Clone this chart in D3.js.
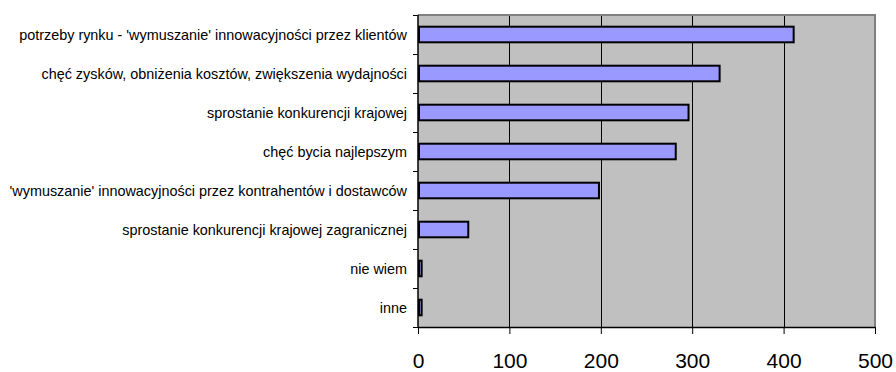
<!DOCTYPE html>
<html>
<head>
<meta charset="utf-8">
<script src="https://cdn.jsdelivr.net/npm/d3@7"></script>
<style>
  html, body { margin: 0; padding: 0; background: #ffffff; }
  svg { display: block; }
</style>
</head>
<body>
<svg id="chart" width="896" height="372"></svg>
<script>
// Motives for innovation — number of answers
const categories = [
  "potrzeby rynku - 'wymuszanie' innowacyjności przez klientów",
  "chęć zysków, obniżenia kosztów, zwiększenia wydajności",
  "sprostanie konkurencji krajowej",
  "chęć bycia najlepszym",
  "'wymuszanie' innowacyjności przez kontrahentów i dostawców",
  "sprostanie konkurencji krajowej zagranicznej",
  "nie wiem",
  "inne"
];
const values = [411, 330, 296, 282, 198, 55, 4, 4];
const xTicks = [0, 100, 200, 300, 400, 500];

const svg = d3.select("#chart");
const plot = { left: 418, right: 875, top: 15, bottom: 327 };

const x = d3.scaleLinear().domain([0, 500]).range([plot.left, plot.right]);
const y = d3.scaleBand().domain(categories).range([plot.top, plot.bottom])
  .paddingInner(0.6).paddingOuter(0.3);

// plot background
svg.append("rect")
  .attr("x", plot.left).attr("y", plot.top)
  .attr("width", plot.right - plot.left).attr("height", plot.bottom - plot.top)
  .attr("fill", "#c0c0c0");

// vertical gridlines
svg.append("g").selectAll("line")
  .data(xTicks.filter(d => d > 0 && d < 500))
  .join("line")
  .attr("x1", d => Math.round(x(d)) + 0.5).attr("x2", d => Math.round(x(d)) + 0.5)
  .attr("y1", plot.top).attr("y2", plot.bottom)
  .attr("stroke", "#000").attr("stroke-width", 1);

// plot frame (top and right)
svg.append("path")
  .attr("d", `M${plot.left},${plot.top}H${plot.right}V${plot.bottom}`)
  .attr("fill", "none").attr("stroke", "#808080").attr("stroke-width", 2);

// bars
svg.append("g").selectAll("rect")
  .data(values)
  .join("rect")
  .attr("x", x(0) + 1)
  .attr("y", (d, i) => y(categories[i]))
  .attr("width", d => Math.max(1, x(d) - x(0) - 1))
  .attr("height", y.bandwidth())
  .attr("fill", "#9999ff")
  .attr("stroke", "#000")
  .attr("stroke-width", 2);

// category axis
const yAxis = svg.append("g").attr("transform", `translate(${plot.left},0)`);
yAxis.append("line")
  .attr("x1", 0).attr("x2", 0).attr("y1", plot.top).attr("y2", plot.bottom)
  .attr("stroke", "#000").attr("stroke-width", 1.5);
const bounds = d3.range(categories.length + 1).map(i => plot.top + i * (plot.bottom - plot.top) / categories.length);
yAxis.selectAll("line.tick").data(bounds).join("line")
  .attr("class", "tick")
  .attr("x1", -5).attr("x2", 0)
  .attr("y1", d => Math.round(d) + 0.5).attr("y2", d => Math.round(d) + 0.5)
  .attr("stroke", "#000").attr("stroke-width", 1);
yAxis.selectAll("text").data(categories).join("text")
  .attr("x", -11)
  .attr("y", d => y(d) + y.bandwidth() / 2)
  .attr("dy", "0.35em")
  .attr("text-anchor", "end")
  .attr("font-family", "'Liberation Sans', Arial, sans-serif")
  .attr("font-size", 14.4)
  .attr("fill", "#000")
  .text(d => d);

// value axis
const xAxis = svg.append("g")
  .attr("transform", `translate(0,${plot.bottom})`)
  .call(d3.axisBottom(x).tickValues(xTicks).tickSize(7).tickSizeOuter(0).tickPadding(19));
xAxis.select(".domain").attr("stroke", "#000").attr("stroke-width", 1.5);
xAxis.selectAll(".tick line").attr("stroke", "#000");
xAxis.selectAll(".tick text")
  .attr("font-family", "'Liberation Sans', Arial, sans-serif")
  .attr("font-size", 21)
  .attr("fill", "#000");
</script>
</body>
</html>
